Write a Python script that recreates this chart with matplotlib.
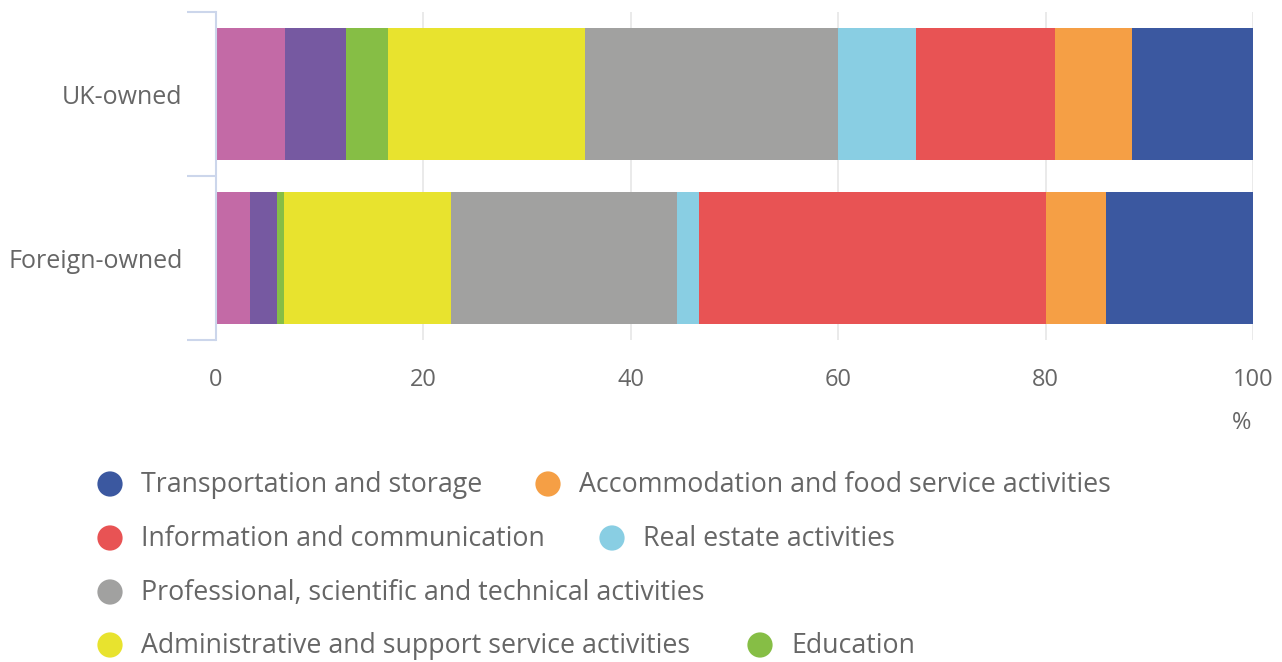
import matplotlib
matplotlib.use('Agg')
import matplotlib.pyplot as plt
import numpy as np

plt.rcParams.update({
    'font.family': ['Open Sans', 'DejaVu Sans'],
    'font.size': 13,
})

# ── Data (percent of each group) ─────────────────────────────────────
groups = ['UK-owned', 'Foreign-owned']
industries = [
    'Other (pink)',
    'Other (purple)',
    'Education',
    'Administrative and support service activities',
    'Professional, scientific and technical activities',
    'Real estate activities',
    'Information and communication',
    'Accommodation and food service activities',
    'Transportation and storage',
]
uk_owned = [6.66, 5.84, 4.12, 19.0, 24.38, 7.5, 13.4, 7.4, 11.7]
foreign_owned = [3.3, 2.6, 0.65, 16.15, 21.75, 2.15, 33.45, 5.8, 14.15]

colors = ['#c36aa6', '#7659a1', '#86be45', '#e8e32e', '#a1a1a0',
          '#89cee3', '#e85354', '#f59f45', '#3b58a0']

TEXT = '#666666'
AXIS_COL = '#ccd6eb'
GRID_COL = '#e6e6e6'

W, H = 1282, 662
fig = plt.figure(figsize=(W / 100, H / 100), dpi=100)
fig.patch.set_facecolor('white')

# main axes in pixel terms: x 216..1253, y 12..340
ax = fig.add_axes([216 / W, 1 - 340 / H, (1253 - 216) / W, (340 - 12) / H])

values = np.array([uk_owned, foreign_owned])
ypos = np.arange(len(groups))
left = np.zeros(len(groups))
for j, name in enumerate(industries):
    ax.barh(ypos, values[:, j], left=left, height=0.8, color=colors[j],
            edgecolor='none', linewidth=0, zorder=2, label=name)
    left += values[:, j]

ax.set_xlim(0, 100)
ax.set_ylim(1.5, -0.5)
ax.set_xticks(np.arange(0, 101, 20))
ax.xaxis.grid(True, color=GRID_COL, linewidth=1.2, zorder=0)
ax.tick_params(axis='x', length=0, pad=20, labelsize=17, labelcolor=TEXT)
for s in ['top', 'right', 'bottom']:
    ax.spines[s].set_visible(False)
ax.spines['left'].set_color(AXIS_COL)
ax.spines['left'].set_linewidth(1.5)

# category ticks at band boundaries, labels at centers
ax.set_yticks([-0.5, 0.5, 1.5])
ax.set_yticklabels([])
ax.tick_params(axis='y', which='major', length=21, width=1.5, color=AXIS_COL)
ax.set_yticks(ypos, minor=True)
ax.set_yticklabels(groups, minor=True)
ax.tick_params(axis='y', which='minor', length=0, pad=24, labelsize=18,
               labelcolor=TEXT)

fig.text(1242 / W, 1 - 423 / H, '%', ha='center', va='center',
         fontsize=17, color=TEXT)

# ── Legend (manual, wrapped like the source) ────────────────────────
lg = fig.add_axes([0, 0, 1, 1])
lg.set_xlim(0, W)
lg.set_ylim(H, 0)
lg.axis('off')
legend_items = [
    ('Transportation and storage', 110, 484),
    ('Accommodation and food service activities', 548, 484),
    ('Information and communication', 110, 538),
    ('Real estate activities', 612, 538),
    ('Professional, scientific and technical activities', 110, 592),
    ('Administrative and support service activities', 110, 645),
    ('Education', 760, 645),
]
for name, x, y in legend_items:
    c = colors[industries.index(name)]
    lg.scatter([x], [y], s=330, color=c, edgecolor='none', zorder=3)
    lg.text(x + 31, y + 1, name, ha='left', va='center', fontsize=19.3,
            color=TEXT)

fig.savefig('out.png', dpi=100, facecolor='white')
plt.close()
